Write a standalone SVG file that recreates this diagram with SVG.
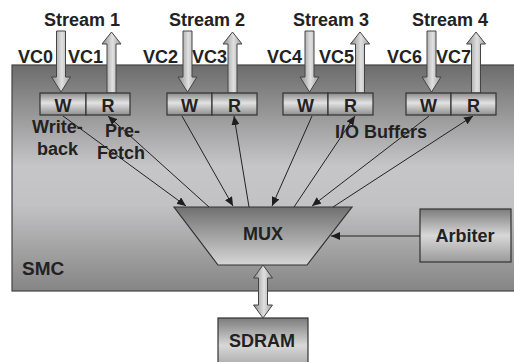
<svg xmlns="http://www.w3.org/2000/svg" width="514" height="362" viewBox="0 0 514 362">
<defs>
<linearGradient id="gSmc" x1="0" y1="0" x2="0" y2="1">
<stop offset="0" stop-color="#6c6c6c"/><stop offset="0.45" stop-color="#c6c6c8"/><stop offset="0.62" stop-color="#c2c2c4"/><stop offset="1" stop-color="#858585"/>
</linearGradient>
<linearGradient id="gBox" x1="0" y1="0" x2="0" y2="1">
<stop offset="0" stop-color="#8a8a8a"/><stop offset="0.45" stop-color="#e2e2e2"/><stop offset="1" stop-color="#8e8e8e"/>
</linearGradient>
<linearGradient id="gBig" x1="0" y1="0" x2="0" y2="1">
<stop offset="0" stop-color="#7c7c7c"/><stop offset="0.5" stop-color="#d8d8d8"/><stop offset="1" stop-color="#9a9a9a"/>
</linearGradient>
<linearGradient id="gMux" x1="0" y1="0" x2="0" y2="1">
<stop offset="0" stop-color="#707070"/><stop offset="1" stop-color="#d6d6d6"/>
</linearGradient>
<linearGradient id="gArrV" x1="0" y1="0" x2="1" y2="0">
<stop offset="0" stop-color="#8c8c8c"/><stop offset="0.55" stop-color="#e0e0e0"/><stop offset="1" stop-color="#a0a0a0"/>
</linearGradient>
<marker id="ah" viewBox="0 0 9 8" refX="9" refY="4" markerWidth="9" markerHeight="8" markerUnits="userSpaceOnUse" orient="auto">
<path d="M0,0 L9,4 L0,8 z" fill="#1e1e1e"/>
</marker>
<style>
.t{font-family:"Liberation Sans",Arial,sans-serif;font-weight:bold;font-size:18px;fill:#222}
.m{text-anchor:middle}
.box{fill:url(#gBox);stroke:#333;stroke-width:1.2}
.big{fill:url(#gBig);stroke:#333;stroke-width:1.2}
.blk{fill:url(#gArrV);stroke:#444;stroke-width:1}
.ln{stroke:#222;stroke-width:1;fill:none;marker-end:url(#ah)}
</style>
</defs>

<g id="smc">
<rect x="12" y="65" width="503" height="226" fill="url(#gSmc)" stroke="#444" stroke-width="1.2"/>
<text class="t" x="22" y="275" style="font-size:19px">SMC</text>
</g>

<g id="stream1">
<text class="t m" x="82" y="26">Stream 1</text>
<text class="t" x="18" y="63">VC0</text>
<text class="t" x="68" y="63">VC1</text>
<path class="blk" d="M56.5,31 H65.5 V77 H70.5 L61,92 L51.5,77 H56.5 Z"/>
<path class="blk" d="M107,93 V44 H102 L111.5,32 L121,44 H116 V93 Z"/>
<rect class="box" x="40" y="93" width="46" height="22"/>
<rect class="box" x="86" y="93" width="44" height="22"/>
<text class="t m" x="63" y="112">W</text>
<text class="t m" x="108" y="112">R</text>
</g>

<g id="stream2">
<text class="t m" x="207" y="26">Stream 2</text>
<text class="t" x="143" y="63">VC2</text>
<text class="t" x="192" y="63">VC3</text>
<path class="blk" d="M183,31 H192 V77 H197 L187.5,92 L178,77 H183 Z"/>
<path class="blk" d="M228,93 V44 H223 L232.5,32 L242,44 H237 V93 Z"/>
<rect class="box" x="167" y="93" width="45" height="22"/>
<rect class="box" x="212" y="93" width="45" height="22"/>
<text class="t m" x="189.5" y="112">W</text>
<text class="t m" x="234.5" y="112">R</text>
</g>

<g id="stream3">
<text class="t m" x="331" y="26">Stream 3</text>
<text class="t" x="267" y="63">VC4</text>
<text class="t" x="319" y="63">VC5</text>
<path class="blk" d="M305,31 H314 V77 H319 L309.5,92 L300,77 H305 Z"/>
<path class="blk" d="M355.5,93 V44 H350.5 L360,32 L369.5,44 H364.5 V93 Z"/>
<rect class="box" x="283" y="93" width="45" height="22"/>
<rect class="box" x="328" y="93" width="45" height="22"/>
<text class="t m" x="305.5" y="112">W</text>
<text class="t m" x="350.5" y="112">R</text>
</g>

<g id="stream4">
<text class="t m" x="450" y="26">Stream 4</text>
<text class="t" x="387" y="63">VC6</text>
<text class="t" x="436" y="63">VC7</text>
<path class="blk" d="M427,31 H436 V77 H441 L431.5,92 L422,77 H427 Z"/>
<path class="blk" d="M471.5,93 V44 H466.5 L476,32 L485.5,44 H480.5 V93 Z"/>
<rect class="box" x="406" y="93" width="45" height="22"/>
<rect class="box" x="451" y="93" width="45" height="22"/>
<text class="t m" x="428.5" y="112">W</text>
<text class="t m" x="473.5" y="112">R</text>
</g>

<g id="labels">
<text class="t" x="32" y="133">Write-</text>
<text class="t" x="37" y="155">back</text>
<text class="t" x="105" y="137">Pre-</text>
<text class="t" x="97" y="159">Fetch</text>
<text class="t" x="335" y="138">I/O Buffers</text>
</g>

<g id="mux">
<path d="M174,207 H352 L307,265 H218 Z" fill="url(#gMux)" stroke="#333" stroke-width="1.2"/>
<text class="t m" x="263" y="240">MUX</text>
</g>

<g id="arbiter">
<rect class="big" x="420" y="209" width="91" height="53"/>
<text class="t m" x="465" y="242">Arbiter</text>
</g>

<g id="sdram">
<rect class="big" x="218" y="318" width="90" height="55"/>
<text class="t m" x="262" y="347">SDRAM</text>
</g>

<g id="connectors">
<line class="ln" x1="63" y1="116" x2="186" y2="206"/>
<line class="ln" x1="209" y1="207" x2="108" y2="116"/>
<line class="ln" x1="182" y1="116" x2="233" y2="206"/>
<line class="ln" x1="249" y1="207" x2="234" y2="116"/>
<line class="ln" x1="312" y1="116" x2="272" y2="206"/>
<line class="ln" x1="294" y1="207" x2="355" y2="116"/>
<line class="ln" x1="429" y1="116" x2="312" y2="206"/>
<line class="ln" x1="333" y1="207" x2="473" y2="116"/>
<line class="ln" x1="420" y1="236" x2="331" y2="236"/>
<path class="blk" d="M263,265 L272.5,278 H267.5 V305 H272.5 L263,318 L253.5,305 H258.5 V278 H253.5 Z"/>
</g>
</svg>
